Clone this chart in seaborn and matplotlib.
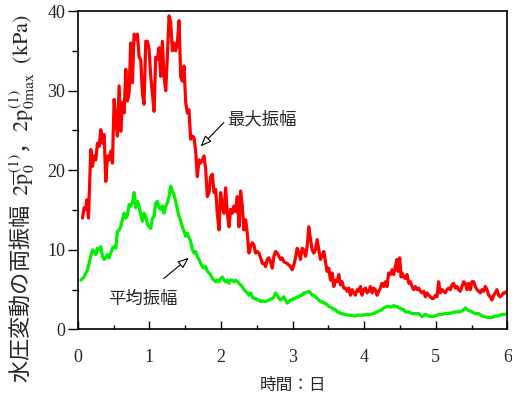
import matplotlib
matplotlib.use("Agg")
import matplotlib.pyplot as plt
from matplotlib.ticker import MultipleLocator
import seaborn as sns
import pandas as pd

# Maximum double amplitude of pore-pressure fluctuation (kPa) vs. elapsed days
max_days = [0.065, 0.088, 0.112, 0.125, 0.149, 0.181, 0.205, 0.228, 0.251, 0.274, 0.298, 0.321, 0.344, 0.367, 0.391,
            0.414, 0.437, 0.460, 0.484, 0.507, 0.530, 0.553, 0.577, 0.600, 0.623, 0.646, 0.670, 0.693, 0.716, 0.739,
            0.763, 0.786, 0.809, 0.832, 0.856, 0.879, 0.902, 0.925, 0.949, 0.972, 0.995, 1.018, 1.042, 1.065, 1.088,
            1.111, 1.135, 1.158, 1.181, 1.204, 1.228, 1.251, 1.274, 1.297, 1.321, 1.344, 1.367, 1.390, 1.414, 1.437,
            1.460, 1.483, 1.507, 1.530, 1.553, 1.576, 1.600, 1.623, 1.646, 1.669, 1.693, 1.716, 1.739, 1.762, 1.786,
            1.809, 1.832, 1.855, 1.879, 1.902, 1.925, 1.948, 1.972, 1.995, 2.018, 2.041, 2.065, 2.088, 2.111, 2.134,
            2.158, 2.181, 2.204, 2.227, 2.251, 2.274, 2.297, 2.320, 2.344, 2.367, 2.390, 2.413, 2.437, 2.460, 2.483,
            2.506, 2.530, 2.553, 2.576, 2.599, 2.623, 2.646, 2.669, 2.692, 2.716, 2.739, 2.762, 2.785, 2.809, 2.832,
            2.855, 2.878, 2.924, 2.971, 2.994, 3.017, 3.040, 3.064, 3.087, 3.110, 3.133, 3.157, 3.180, 3.203, 3.226,
            3.250, 3.273, 3.296, 3.319, 3.343, 3.366, 3.389, 3.412, 3.436, 3.459, 3.482, 3.505, 3.529, 3.552, 3.575,
            3.598, 3.622, 3.645, 3.668, 3.691, 3.715, 3.738, 3.761, 3.784, 3.808, 3.831, 3.854, 3.877, 3.901, 3.924,
            3.947, 3.970, 3.994, 4.017, 4.040, 4.063, 4.087, 4.110, 4.133, 4.156, 4.180, 4.203, 4.226, 4.249, 4.273,
            4.296, 4.319, 4.342, 4.366, 4.389, 4.412, 4.435, 4.458, 4.473, 4.496, 4.515, 4.529, 4.552, 4.575, 4.598,
            4.622, 4.645, 4.668, 4.691, 4.715, 4.738, 4.761, 4.784, 4.808, 4.831, 4.854, 4.877, 4.901, 4.924, 4.947,
            4.970, 4.994, 5.017, 5.040, 5.063, 5.087, 5.110, 5.133, 5.156, 5.180, 5.203, 5.226, 5.249, 5.273, 5.296,
            5.319, 5.342, 5.366, 5.389, 5.412, 5.435, 5.459, 5.482, 5.505, 5.529, 5.552, 5.575, 5.598, 5.622, 5.645,
            5.668, 5.691, 5.715, 5.738, 5.761, 5.784, 5.808, 5.831, 5.854, 5.878, 5.901, 5.924, 5.947, 5.970, 5.994]
max_amp = [14.0, 15.3, 15.1, 16.3, 14.0, 22.6, 20.5, 21.8, 21.3, 23.4, 23.0, 25.1, 23.4, 24.5, 18.6,
           21.8, 21.3, 22.4, 20.9, 28.9, 26.4, 24.3, 30.6, 24.9, 28.5, 27.2, 32.7, 28.7, 29.7, 36.0,
           31.0, 37.1, 36.5, 37.1, 34.2, 33.9, 29.7, 28.3, 36.2, 36.2, 35.2, 31.8, 29.7, 27.4, 34.2,
           33.9, 35.4, 31.8, 36.2, 31.8, 30.0, 34.4, 39.4, 38.6, 35.0, 36.0, 35.0, 36.0, 38.8, 31.8,
           31.2, 33.1, 28.5, 27.2, 27.6, 23.9, 24.3, 24.1, 22.4, 19.2, 21.3, 20.9, 21.3, 21.8, 20.1,
           16.7, 17.2, 19.2, 19.5, 17.2, 17.6, 14.6, 12.5, 17.2, 15.5, 14.6, 17.8, 14.6, 12.9, 15.1,
           14.6, 15.5, 14.8, 16.7, 12.9, 17.4, 15.5, 12.5, 13.8, 12.1, 9.6, 10.4, 10.9, 10.6, 9.6,
           9.8, 9.6, 9.0, 8.3, 8.3, 7.9, 8.8, 9.0, 8.5, 7.7, 9.2, 9.8, 9.6, 9.2, 8.8,
           9.0, 8.5, 8.3, 7.9, 7.5, 8.1, 9.0, 10.2, 9.6, 8.8, 10.2, 10.0, 9.2, 10.4, 12.9,
           11.3, 10.0, 9.6, 10.0, 11.3, 10.0, 8.8, 9.2, 9.8, 8.5, 7.3, 7.7, 6.2, 7.1, 5.4,
           6.2, 6.0, 6.9, 5.6, 6.0, 5.2, 5.2, 4.8, 5.2, 4.3, 5.0, 4.6, 4.3, 5.0, 4.8,
           5.4, 4.3, 5.0, 5.2, 4.6, 4.8, 5.4, 4.6, 5.2, 5.0, 4.3, 4.8, 5.2, 5.8, 5.4,
           6.0, 5.4, 7.1, 6.9, 7.5, 6.9, 7.9, 8.8, 7.3, 9.0, 6.6, 7.1, 6.6, 6.4, 6.9,
           5.8, 6.0, 5.4, 5.0, 5.4, 5.0, 5.2, 4.8, 4.6, 4.8, 4.1, 4.6, 4.3, 4.1, 3.9,
           3.9, 4.3, 4.1, 6.0, 4.6, 5.0, 4.8, 4.6, 5.0, 5.2, 5.0, 5.6, 5.8, 5.2, 5.4,
           5.0, 4.8, 5.4, 6.0, 5.8, 5.0, 5.8, 5.0, 6.0, 6.0, 5.4, 5.0, 4.8, 4.6, 5.0,
           4.8, 5.4, 5.0, 4.3, 4.1, 3.7, 4.3, 4.6, 5.0, 4.3, 4.1, 4.3, 4.6, 4.6, 4.8]

# Mean double amplitude of pore-pressure fluctuation (kPa)
mean_days = [0.042, 0.065, 0.088, 0.112, 0.135, 0.158, 0.181, 0.205, 0.228, 0.251, 0.274, 0.298, 0.321, 0.344, 0.367,
             0.391, 0.414, 0.437, 0.460, 0.484, 0.507, 0.530, 0.553, 0.577, 0.600, 0.623, 0.646, 0.670, 0.693, 0.716,
             0.739, 0.763, 0.786, 0.809, 0.832, 0.856, 0.879, 0.902, 0.925, 0.949, 0.972, 0.995, 1.018, 1.042, 1.065,
             1.088, 1.111, 1.135, 1.158, 1.181, 1.204, 1.228, 1.251, 1.274, 1.297, 1.321, 1.344, 1.367, 1.390, 1.414,
             1.437, 1.460, 1.483, 1.507, 1.530, 1.553, 1.576, 1.600, 1.623, 1.646, 1.669, 1.693, 1.716, 1.739, 1.762,
             1.786, 1.809, 1.832, 1.855, 1.879, 1.902, 1.925, 1.948, 1.972, 1.995, 2.018, 2.041, 2.065, 2.088, 2.111,
             2.134, 2.158, 2.181, 2.204, 2.227, 2.251, 2.274, 2.297, 2.320, 2.344, 2.367, 2.390, 2.413, 2.437, 2.460,
             2.483, 2.506, 2.530, 2.553, 2.576, 2.623, 2.669, 2.716, 2.739, 2.762, 2.785, 2.809, 2.832, 2.855, 2.878,
             2.924, 2.947, 2.971, 2.994, 3.017, 3.040, 3.064, 3.087, 3.110, 3.133, 3.157, 3.180, 3.203, 3.226, 3.250,
             3.273, 3.296, 3.319, 3.343, 3.366, 3.389, 3.412, 3.436, 3.459, 3.482, 3.505, 3.529, 3.552, 3.575, 3.598,
             3.622, 3.645, 3.668, 3.691, 3.715, 3.738, 3.761, 3.808, 3.854, 3.877, 3.901, 3.947, 3.994, 4.040, 4.087,
             4.133, 4.180, 4.226, 4.249, 4.273, 4.296, 4.319, 4.342, 4.366, 4.389, 4.412, 4.435, 4.458, 4.482, 4.505,
             4.529, 4.552, 4.575, 4.622, 4.668, 4.715, 4.761, 4.808, 4.854, 4.901, 4.947, 4.994, 5.040, 5.087, 5.133,
             5.180, 5.226, 5.273, 5.319, 5.366, 5.412, 5.435, 5.459, 5.505, 5.552, 5.598, 5.645, 5.691, 5.738, 5.784,
             5.831, 5.878, 5.924, 5.970, 6.000]
mean_amp = [6.2, 6.4, 6.6, 7.1, 7.5, 8.3, 9.2, 10.0, 9.8, 9.4, 10.2, 10.0, 10.4, 9.2, 8.8,
            9.0, 9.4, 9.0, 9.6, 10.2, 10.4, 10.2, 12.3, 12.5, 12.9, 13.8, 14.6, 14.0, 14.4, 15.7,
            15.5, 15.9, 17.2, 15.3, 16.1, 15.5, 14.4, 13.6, 14.6, 14.2, 13.2, 12.9, 12.7, 14.0, 14.2,
            15.9, 16.1, 15.3, 15.1, 15.5, 14.6, 15.5, 15.9, 16.7, 18.0, 17.4, 16.9, 16.1, 15.1, 14.2,
            13.6, 12.9, 12.3, 11.7, 12.1, 11.5, 11.1, 10.0, 9.6, 9.8, 9.2, 8.8, 8.3, 7.9, 7.7,
            7.9, 7.3, 7.1, 6.9, 6.4, 6.2, 6.0, 6.2, 6.0, 6.4, 6.6, 6.2, 6.0, 6.2, 5.8,
            6.2, 6.2, 6.0, 6.2, 6.0, 5.8, 5.6, 5.4, 5.0, 4.8, 4.6, 4.3, 4.6, 4.1, 3.9,
            3.9, 3.7, 3.7, 3.5, 3.6, 3.5, 3.7, 3.9, 4.1, 4.6, 4.3, 3.9, 3.7, 3.9, 4.1,
            3.3, 3.5, 3.7, 3.7, 3.9, 3.9, 4.1, 4.1, 4.3, 4.3, 4.6, 4.6, 4.7, 4.8, 4.6,
            4.3, 4.3, 4.1, 3.9, 3.7, 3.5, 3.5, 3.3, 3.3, 3.1, 2.9, 2.8, 2.7, 2.5, 2.5,
            2.2, 2.2, 2.0, 2.0, 1.9, 1.9, 1.8, 1.8, 1.7, 1.7, 1.8, 1.8, 1.8, 1.9, 1.9,
            2.0, 2.2, 2.4, 2.5, 2.7, 2.8, 2.9, 2.9, 2.8, 2.9, 3.0, 2.9, 2.9, 2.7, 2.7,
            2.5, 2.5, 2.2, 2.2, 2.0, 2.0, 2.0, 1.6, 1.9, 1.7, 1.6, 1.7, 1.9, 1.9, 2.0,
            2.0, 2.1, 2.2, 2.2, 2.3, 2.7, 2.5, 2.4, 2.2, 2.0, 2.0, 1.7, 1.6, 1.5, 1.5,
            1.7, 1.7, 1.9, 1.9, 2.0]

x_ticks = [0, 1, 2, 3, 4, 5, 6]
y_ticks = [0, 10, 20, 30, 40]

sns.set_style("ticks")
plt.rcParams["font.family"] = ["Noto Sans CJK JP", "DejaVu Sans"]
plt.rcParams["mathtext.fontset"] = "stix"

fig = plt.figure(figsize=(5.12, 3.96), dpi=100)
ax = fig.add_axes([0.152, 0.168, 0.839, 0.804])

df_max = pd.DataFrame({"day": max_days, "amp": max_amp})
df_mean = pd.DataFrame({"day": mean_days, "amp": mean_amp})
sns.lineplot(data=df_max, x="day", y="amp", color="#ff0000", lw=2.3,
             estimator=None, sort=False, ax=ax)
sns.lineplot(data=df_mean, x="day", y="amp", color="#00f000", lw=2.3,
             estimator=None, sort=False, ax=ax)

ax.set_xlim(0, 6)
ax.set_ylim(0, 40)
ax.set_xticks(x_ticks)
ax.set_yticks(y_ticks)
ax.xaxis.set_minor_locator(MultipleLocator(0.5))
ax.yaxis.set_minor_locator(MultipleLocator(5))
ax.tick_params(axis="x", which="both", direction="in", top=False, pad=14,
               labelsize=13, color="black", width=1.0)
ax.tick_params(axis="x", which="major", length=6)
ax.tick_params(axis="x", which="minor", length=3)
ax.tick_params(axis="y", which="both", direction="out", right=False, pad=2,
               labelsize=13, color="black", width=1.0)
ax.tick_params(axis="y", which="major", length=7)
ax.tick_params(axis="y", which="minor", length=4)
for lab in ax.get_xticklabels() + ax.get_yticklabels():
    lab.set_family("Liberation Serif")
for sp in ax.spines.values():
    sp.set_visible(True)
    sp.set_color("black")
    sp.set_linewidth(1.2)

ax.set_xlabel("時間：日", fontsize=12, labelpad=8)
ax.set_ylabel("水圧変動の両振幅  $\\mathrm{2\\overline{p}_0^{(1)}}$，"
              "$\\mathrm{2p_{0max}^{(1)}}$  $\\mathrm{(kPa)}$",
              fontsize=16)
ax.yaxis.set_label_coords(-0.095, 0.41)

arrow = dict(arrowstyle="-|>,head_length=0.55,head_width=0.22", fc="white",
             ec="black", lw=0.8, mutation_scale=12, shrinkA=0, shrinkB=0)
ax.annotate("", xy=(1.715, 23.0), xytext=(2.04, 26.0), arrowprops=arrow)
ax.text(2.085, 26.4, "最大振幅", fontsize=12.5, ha="left", va="center")
ax.annotate("", xy=(1.55, 9.0), xytext=(1.20, 6.4), arrowprops=arrow)
ax.text(0.423, 3.8, "平均振幅", fontsize=12.5, ha="left", va="center")

fig.savefig("out.png", dpi=100)
